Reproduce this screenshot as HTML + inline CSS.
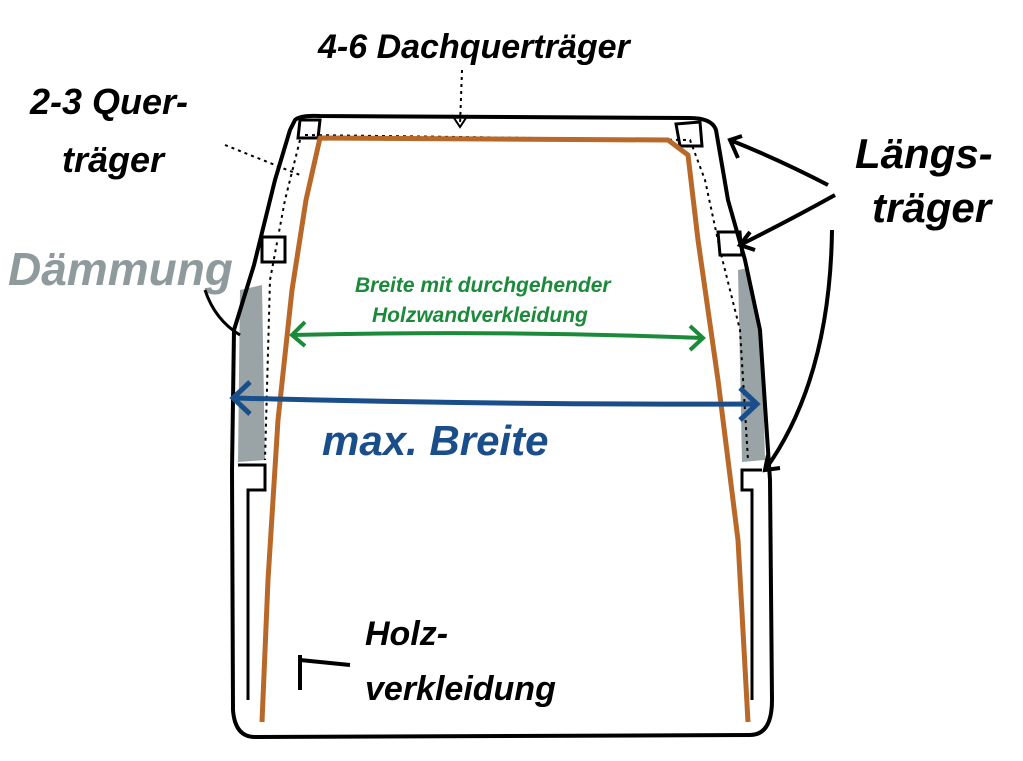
<!DOCTYPE html>
<html><head><meta charset="utf-8"><style>
html,body{margin:0;padding:0;background:#fff;}
svg{display:block}
text{font-family:"Liberation Sans",sans-serif;font-style:italic;font-weight:bold;}
</style></head><body>
<svg width="1023" height="761" viewBox="0 0 1023 761" xmlns="http://www.w3.org/2000/svg">
<rect width="1023" height="761" fill="#fff"/>
<path d="M240 290 L262 285 L265 460 L238 462 Z" fill="#9aa3a6"/>
<path d="M738 270 L748 268 L762 340 L765 460 L742 462 Z" fill="#9aa3a6"/>
<path d="M295 120 Q300 115 320 116 L690 118 Q712 118 716 130 L728 200 L745 260 L760 330 L766 420 L770 480 L772 700 Q772 735 750 735 L255 737 Q235 737 233 710 L232 470 L234 330 L254 265 L275 180 L290 130 Z" fill="none" stroke="#000" stroke-width="4" stroke-linejoin="round"/>
<path d="M305 135 L690 140 L705 180 L720 250 L740 330 L748 460" fill="none" stroke="#000" stroke-width="2" stroke-dasharray="3 4"/>
<path d="M300 140 L285 200 L270 280 L265 460" fill="none" stroke="#000" stroke-width="2" stroke-dasharray="3 4"/>
<path d="M300 120 L320 120 L318 138 L298 138 Z" fill="none" stroke="#000" stroke-width="3"/>
<path d="M676 124 L700 122 L702 146 L680 146 Z" fill="none" stroke="#000" stroke-width="3"/>
<path d="M262 237 L285 237 L285 262 L262 262 Z" fill="none" stroke="#000" stroke-width="3"/>
<path d="M718 232 L740 232 L742 255 L720 255 Z" fill="none" stroke="#000" stroke-width="3"/>
<path d="M238 465 L265 465 L265 490 L248 490 L248 700" fill="none" stroke="#000" stroke-width="3"/>
<path d="M762 470 L742 470 L742 490 L752 490 L752 700" fill="none" stroke="#000" stroke-width="3"/>
<path d="M262 722 L268 580 L278 420 L292 290 L306 200 L320 138 L668 140 L688 155 L698 240 L718 380 L738 540 L748 722" fill="none" stroke="#b8692a" stroke-width="5" stroke-linejoin="round"/>
<path d="M292 335 Q500 330 703 338" fill="none" stroke="#1b8a3a" stroke-width="4"/>
<path d="M305 322 L292 335 L305 346 M690 326 L703 338 L690 350" fill="none" stroke="#1b8a3a" stroke-width="4"/>
<text x="355" y="292" font-size="21" fill="#1b8a3a" font-weight="normal">Breite mit durchgehender</text>
<text x="372" y="322" font-size="21" fill="#1b8a3a" font-weight="normal">Holzwandverkleidung</text>
<path d="M233 398 Q500 405 757 404" fill="none" stroke="#1a4e8a" stroke-width="5"/>
<path d="M250 382 L233 398 L250 414 M740 388 L757 404 L740 420" fill="none" stroke="#1a4e8a" stroke-width="5"/>
<text x="322" y="455" font-size="42" fill="#1a4e8a">max.  Breite</text>
<text x="318" y="58" font-size="34" fill="#000">4-6 Dachquerträger</text>
<path d="M462 70 L460 125" stroke="#000" stroke-width="2" stroke-dasharray="3 4"/>
<path d="M452 115 L460 127 L468 115" fill="none" stroke="#000" stroke-width="2"/>
<text x="30" y="114" font-size="36" fill="#000">2-3 Quer-</text>
<text x="62" y="172" font-size="36" fill="#000">träger</text>
<path d="M225 145 L300 175" stroke="#000" stroke-width="2" stroke-dasharray="3 4"/>
<text x="8" y="285" font-size="46" fill="#8f9a9d">Dämmung</text>
<path d="M205 290 Q215 320 240 335" fill="none" stroke="#000" stroke-width="3"/>
<text x="855" y="168" font-size="42" fill="#000">Längs-</text>
<text x="872" y="222" font-size="42" fill="#000">träger</text>
<path d="M828 185 Q780 160 730 140 M742 136 L730 140 L738 158" fill="none" stroke="#000" stroke-width="4"/>
<path d="M835 195 Q790 220 740 245 M750 232 L740 245 L755 250" fill="none" stroke="#000" stroke-width="4"/>
<path d="M832 230 Q830 380 765 470 M768 455 L765 470 L780 468" fill="none" stroke="#000" stroke-width="4"/>
<text x="365" y="645" font-size="34" fill="#000">Holz-</text>
<text x="365" y="700" font-size="34" fill="#000">verkleidung</text>
<path d="M350 665 L300 660 M300 655 L300 690" fill="none" stroke="#000" stroke-width="4"/>
</svg>
</body></html>
